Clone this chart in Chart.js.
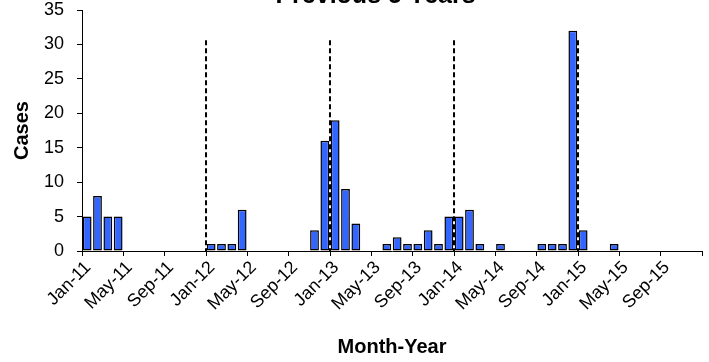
<!DOCTYPE html>
<html lang="en">

<head>
    <meta charset="UTF-8" />
    <title>Previous 5 Years</title>
    <script src="https://cdn.jsdelivr.net/npm/chart.js"></script>
    <style>
        body { margin: 0; background: #fff; }
        #wrap { width: 709px; height: 362px; }
    </style>
</head>

<body>

    <div id="wrap"><canvas id="casesChart"></canvas></div>

    <script>
        const months = ['Jan', 'Feb', 'Mar', 'Apr', 'May', 'Jun', 'Jul', 'Aug', 'Sep', 'Oct', 'Nov', 'Dec'];
        const years = ['11', '12', '13', '14', '15'];
        const labels = years.flatMap(y => months.map(m => m + '-' + y));

        // cases per month, one row per year (null = no cases)
        const cases2011 = [5, 8, 5, 5, null, null, null, null, null, null, null, null];
        const cases2012 = [1, 1, 1, 6, null, null, null, null, null, null, 3, 16];
        const cases2013 = [19, 9, 4, null, null, 1, 2, 1, 1, 3, 1, 5];
        const cases2014 = [5, 6, 1, null, 1, null, null, null, 1, 1, 1, 32];
        const cases2015 = [3, null, null, 1, null, null, null, null, null, null, null, null];
        const cases = [...cases2011, ...cases2012, ...cases2013, ...cases2014, ...cases2015];

        // year boundaries marked with dashed lines
        const yearMarks = ['Jan-12', 'Jan-13', 'Jan-14', 'Jan-15'];
        const yearMarkTop = 30.6;

        const font = 'Arial, "Liberation Sans", sans-serif';

        const yearLines = {
            id: 'yearLines',
            beforeDatasetsDraw(chart) {
                const { ctx, scales: { x, y } } = chart;
                const half = (x.getPixelForValue(1) - x.getPixelForValue(0)) / 2;
                ctx.save();
                ctx.strokeStyle = '#000';
                ctx.lineWidth = 2;
                ctx.setLineDash([5, 3]);
                yearMarks.forEach(m => {
                    const px = Math.round(x.getPixelForValue(labels.indexOf(m)) - half);
                    ctx.beginPath();
                    ctx.moveTo(px, y.getPixelForValue(yearMarkTop));
                    ctx.lineTo(px, y.getPixelForValue(0));
                    ctx.stroke();
                });
                ctx.restore();
            }
        };

        // title sits right of centre in the original
        const shiftTitle = {
            id: 'shiftTitle',
            afterLayout(chart) {
                if (chart.titleBlock) chart.titleBlock.left = 49;
            }
        };

        new Chart(document.getElementById('casesChart'), {
            type: 'bar',
            data: {
                labels: labels,
                datasets: [{
                    label: 'Cases',
                    data: cases,
                    backgroundColor: '#3366FF',
                    borderColor: '#000',
                    borderWidth: 1.5,
                    borderSkipped: false,
                    categoryPercentage: 1,
                    barPercentage: 0.85
                }]
            },
            options: {
                responsive: true,
                maintainAspectRatio: false,
                animation: false,
                layout: { padding: { left: 0, right: 7, top: -19, bottom: 0 } },
                plugins: {
                    legend: { display: false },
                    tooltip: { enabled: false },
                    title: {
                        display: true,
                        text: 'Previous 5 Years',
                        color: '#000',
                        font: { family: font, size: 25, weight: 'bold' },
                        padding: { top: 0, bottom: -1 }
                    }
                },
                scales: {
                    x: {
                        afterFit(scale) {
                            scale.height = 111;
                            scale.paddingLeft = 0;
                            scale.paddingRight = 0;
                        },
                        border: { display: true, color: '#000', width: 1 },
                        grid: {
                            drawOnChartArea: false,
                            tickLength: 5,
                            tickColor: ctx => (ctx.type !== 'tick' || ctx.index % 4 === 0) ? '#000' : 'rgba(0,0,0,0)'
                        },
                        ticks: {
                            autoSkip: false,
                            minRotation: 45,
                            maxRotation: 45,
                            labelOffset: 1,
                            padding: 1,
                            color: '#000',
                            font: { family: font, size: 18 },
                            callback: (v, i) => i % 4 === 0 ? labels[i] : ''
                        },
                        title: {
                            display: true,
                            text: 'Month-Year',
                            color: '#000',
                            font: { family: font, size: 20, weight: 'bold' },
                            padding: { top: 0, bottom: 3 }
                        }
                    },
                    y: {
                        min: 0,
                        max: 35,
                        afterFit(scale) {
                            scale.width = 82;
                            scale.paddingTop = 0;
                            scale.paddingBottom = 0;
                        },
                        border: { display: true, color: '#000', width: 1 },
                        grid: { drawOnChartArea: false, tickLength: 5, tickColor: '#000' },
                        ticks: {
                            stepSize: 5,
                            padding: 13,
                            color: '#000',
                            font: { family: font, size: 18 }
                        },
                        title: {
                            display: true,
                            text: 'Cases',
                            color: '#000',
                            font: { family: font, size: 20, weight: 'bold' },
                            padding: { top: 10, bottom: 0 }
                        }
                    }
                }
            },
            plugins: [yearLines, shiftTitle]
        });
    </script>

</body>

</html>
